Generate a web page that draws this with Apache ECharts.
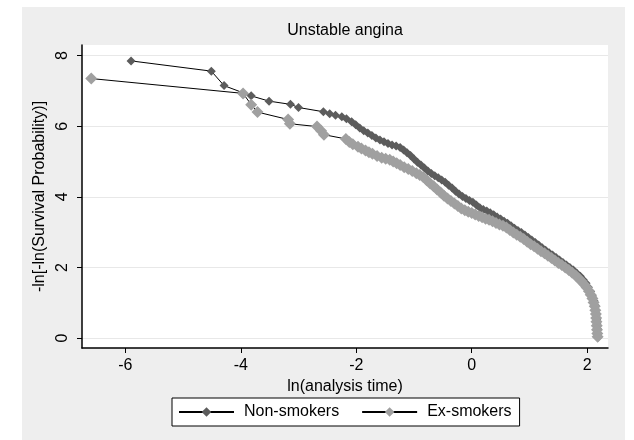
<!DOCTYPE html>
<html>
<head>
<meta charset="utf-8">
<script src="https://cdn.jsdelivr.net/npm/echarts@6/dist/echarts.min.js"></script>
<style>
  html, body { margin: 0; padding: 0; background: #fff; }
  #chart { width: 634px; height: 440px; }
</style>
</head>
<body>
<div id="chart"></div>
<script>
// -ln[-ln(S(t))] against ln(t), by smoking status
const titleText = 'Unstable angina';
const seriesNames = ['Non-smokers', 'Ex-smokers'];
const xTicks = [-6, -4, -2, 0, 2];
const yTicks = [0, 2, 4, 6, 8];

// [ln(analysis time), -ln(-ln(survival))]
const nonSmokers = [
  [-5.90, 7.85], [-4.51, 7.56], [-4.29, 7.15], [-3.82, 6.86], [-3.51, 6.71],
  [-3.14, 6.62], [-3.00, 6.53], [-2.57, 6.41], [-2.46, 6.35], [-2.36, 6.31],
  [-2.25, 6.27], [-2.17, 6.21], [-2.08, 6.13], [-2.01, 6.04], [-1.94, 5.95],
  [-1.87, 5.87], [-1.80, 5.81], [-1.73, 5.74], [-1.66, 5.67], [-1.59, 5.61],
  [-1.52, 5.56], [-1.45, 5.51], [-1.38, 5.47], [-1.31, 5.44], [-1.24, 5.40],
  [-1.18, 5.33], [-1.12, 5.25], [-1.06, 5.17], [-1.00, 5.07], [-0.94, 4.98],
  [-0.88, 4.90], [-0.82, 4.82], [-0.76, 4.73], [-0.70, 4.66], [-0.64, 4.60],
  [-0.58, 4.54], [-0.52, 4.48], [-0.46, 4.41], [-0.40, 4.33], [-0.34, 4.25],
  [-0.28, 4.16], [-0.22, 4.08], [-0.16, 4.01], [-0.10, 3.95], [-0.04, 3.90],
  [0.02, 3.85], [0.08, 3.77], [0.14, 3.69], [0.20, 3.64], [0.26, 3.60],
  [0.32, 3.55], [0.38, 3.49], [0.44, 3.43], [0.50, 3.37], [0.56, 3.31],
  [0.62, 3.25], [0.68, 3.18], [0.74, 3.11], [0.80, 3.05], [0.86, 2.99],
  [0.92, 2.92], [0.98, 2.85], [1.04, 2.78], [1.10, 2.71], [1.16, 2.64],
  [1.22, 2.56], [1.28, 2.49], [1.34, 2.42], [1.40, 2.35], [1.46, 2.28],
  [1.52, 2.21], [1.58, 2.14], [1.64, 2.07], [1.70, 2.00], [1.76, 1.93],
  [1.82, 1.84], [1.88, 1.75], [1.93, 1.65], [1.98, 1.55], [2.02, 1.44],
  [2.06, 1.32], [2.09, 1.19], [2.12, 1.05], [2.14, 0.92], [2.15, 0.79],
  [2.16, 0.66], [2.165, 0.53], [2.17, 0.40], [2.175, 0.27], [2.18, 0.14],
  [2.185, 0.02]
];

const exSmokers = [
  [-6.59, 7.35], [-3.96, 6.93], [-3.82, 6.61], [-3.71, 6.40], [-3.18, 6.19],
  [-3.15, 6.07], [-2.68, 5.99], [-2.61, 5.87], [-2.56, 5.76], [-2.18, 5.64],
  [-2.12, 5.55], [-2.06, 5.49], [-1.97, 5.42], [-1.91, 5.37], [-1.84, 5.31],
  [-1.78, 5.26], [-1.72, 5.22], [-1.64, 5.16], [-1.56, 5.11], [-1.49, 5.08],
  [-1.42, 5.05], [-1.36, 5.00], [-1.30, 4.95], [-1.24, 4.90], [-1.17, 4.84],
  [-1.10, 4.79], [-1.03, 4.73], [-0.96, 4.67], [-0.90, 4.62], [-0.84, 4.56],
  [-0.78, 4.47], [-0.72, 4.38], [-0.66, 4.30], [-0.60, 4.21], [-0.54, 4.12],
  [-0.48, 4.03], [-0.42, 3.95], [-0.36, 3.88], [-0.30, 3.81], [-0.24, 3.74],
  [-0.18, 3.67], [-0.12, 3.62], [-0.06, 3.58], [0.00, 3.54], [0.06, 3.50],
  [0.12, 3.46], [0.18, 3.42], [0.24, 3.38], [0.30, 3.35], [0.36, 3.31],
  [0.42, 3.26], [0.48, 3.22], [0.54, 3.18], [0.60, 3.13], [0.66, 3.06],
  [0.72, 2.99], [0.78, 2.93], [0.84, 2.87], [0.90, 2.81], [0.96, 2.73],
  [1.02, 2.66], [1.08, 2.60], [1.14, 2.53], [1.20, 2.46], [1.26, 2.40],
  [1.32, 2.33], [1.38, 2.27], [1.44, 2.20], [1.50, 2.13], [1.56, 2.07],
  [1.62, 2.00], [1.68, 1.93], [1.74, 1.85], [1.80, 1.77], [1.85, 1.69],
  [1.90, 1.61], [1.95, 1.52], [1.99, 1.43], [2.03, 1.33], [2.06, 1.23],
  [2.09, 1.12], [2.11, 1.01], [2.13, 0.90], [2.14, 0.79], [2.15, 0.68],
  [2.155, 0.57], [2.16, 0.46], [2.165, 0.35], [2.17, 0.24], [2.175, 0.13],
  [2.18, 0.04]
];

const FONT = 'Liberation Sans, Arial, sans-serif';
const chart = echarts.init(document.getElementById('chart'), null, { renderer: 'canvas' });

chart.setOption({
  animation: false,
  backgroundColor: '#ffffff',
  textStyle: { fontFamily: FONT },
  graphic: [{
    type: 'rect',
    z: -10,
    silent: true,
    shape: { x: 22, y: 7, width: 603, height: 433 },
    style: { fill: '#eeeeee' }
  }],
  title: {
    text: titleText,
    left: 345,
    top: 23,
    textAlign: 'center',
    padding: 0,
    textStyle: { fontFamily: FONT, fontSize: 16, fontWeight: 'normal', color: '#000' }
  },
  grid: {
    left: 82, right: 26, top: 45, bottom: 92,
    show: true, backgroundColor: '#ffffff', borderWidth: 0
  },
  legend: {
    data: seriesNames,
    left: 172,
    top: 398,
    orient: 'horizontal',
    backgroundColor: '#ffffff',
    borderColor: '#000000',
    borderWidth: 1,
    borderRadius: 0,
    padding: [6, 8, 6, 6],
    itemWidth: 55,
    itemHeight: 12,
    itemGap: 22,
    textStyle: { fontFamily: FONT, fontSize: 16, color: '#000', padding: [0, 0, 0, 5] }
  },
  xAxis: {
    type: 'value',
    min: -6.75,
    max: 2.36,
    name: 'ln(analysis time)',
    nameLocation: 'middle',
    nameGap: 22,
    nameTextStyle: { fontFamily: FONT, fontSize: 16, color: '#000' },
    axisLine: { show: true, onZero: false, lineStyle: { color: '#000', width: 1.5 } },
    axisTick: { show: true, length: 5, customValues: xTicks, lineStyle: { color: '#000', width: 1 } },
    axisLabel: { customValues: xTicks, margin: 10, fontFamily: FONT, fontSize: 16, color: '#000' },
    splitLine: { show: false }
  },
  yAxis: {
    type: 'value',
    min: -0.28,
    max: 8.30,
    name: '-ln[-ln(Survival Probability)]',
    nameLocation: 'middle',
    nameRotate: 90,
    nameGap: 32,
    nameTextStyle: { fontFamily: FONT, fontSize: 16, color: '#000' },
    axisLine: { show: true, onZero: false, lineStyle: { color: '#000', width: 1.5 } },
    axisTick: { show: true, length: 5, customValues: yTicks, lineStyle: { color: '#000', width: 1 } },
    axisLabel: { customValues: yTicks, rotate: 90, margin: 11, fontFamily: FONT, fontSize: 16, color: '#000' },
    splitLine: { show: true, lineStyle: { color: '#e8e8e8', width: 1 } }
  },
  series: [
    {
      name: seriesNames[0],
      type: 'line',
      data: nonSmokers,
      symbol: 'diamond',
      symbolSize: 9,
      showSymbol: true,
      showAllSymbol: true,
      itemStyle: { color: '#5c5c5c' },
      lineStyle: { color: '#000000', width: 1 }
    },
    {
      name: seriesNames[1],
      type: 'line',
      data: exSmokers,
      symbol: 'diamond',
      symbolSize: 12,
      showSymbol: true,
      showAllSymbol: true,
      itemStyle: { color: '#a0a0a0' },
      lineStyle: { color: '#000000', width: 1 }
    }
  ]
});
</script>
</body>
</html>
